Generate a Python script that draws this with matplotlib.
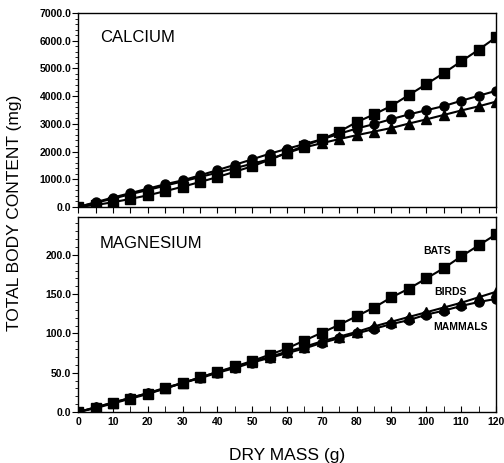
import matplotlib
matplotlib.use("Agg")
import matplotlib.pyplot as plt
from matplotlib.ticker import MultipleLocator, FormatStrFormatter

plt.rcParams["font.family"] = ["Liberation Sans", "DejaVu Sans"]

# -- data --
dry_mass = list(range(0, 121, 5))

ca_bats = [0, 70, 170, 290, 420, 570, 730, 900, 1080, 1270, 1470, 1700, 1960,
           2210, 2440, 2720, 3060, 3340, 3650, 4040, 4430, 4830, 5250, 5670, 6120]
ca_birds = [0, 150, 300, 460, 610, 770, 920, 1080, 1240, 1400, 1560, 1720, 1950,
            2150, 2300, 2450, 2590, 2720, 2850, 3010, 3160, 3320, 3480, 3630, 3800]
ca_mammals = [0, 170, 340, 500, 660, 820, 960, 1140, 1330, 1520, 1720, 1920, 2100,
              2270, 2440, 2640, 2830, 2990, 3170, 3340, 3490, 3640, 3830, 4010, 4190]

mg_bats = [0, 5, 11, 17, 23, 30, 37, 44, 51, 58, 65, 73, 81,
           91, 101, 111, 122, 133, 146, 157, 170, 183, 198, 212, 226]
mg_birds = [0, 6, 12, 18, 24, 31, 37, 44, 51, 57, 64, 70, 77,
            83, 90, 96, 102, 109, 115, 121, 127, 133, 139, 146, 153]
mg_mammals = [0, 6, 12, 18, 24, 30, 37, 43, 50, 56, 63, 69, 75,
              81, 88, 94, 100, 106, 112, 117, 124, 129, 135, 140, 144]

fig = plt.figure(figsize=(5.04, 4.63), dpi=100)
ax_ca = fig.add_axes([0.155, 0.553, 0.829, 0.419])
ax_mg = fig.add_axes([0.155, 0.110, 0.829, 0.421])

line_kw = dict(color="black", linewidth=1.5, markersize=6.5)

# Calcium
ax_ca.plot(dry_mass, ca_bats, marker="s", **line_kw)
ax_ca.plot(dry_mass, ca_mammals, marker="o", **line_kw)
ax_ca.plot(dry_mass, ca_birds, marker="^", **line_kw)
ax_ca.set_xlim(0, 120)
ax_ca.set_ylim(0, 7000)
ax_ca.yaxis.set_major_locator(MultipleLocator(1000))
ax_ca.yaxis.set_minor_locator(MultipleLocator(200))
ax_ca.xaxis.set_major_locator(MultipleLocator(5))
ax_ca.tick_params(axis="x", direction="out", length=4, labelbottom=False)
ax_ca.text(6.3, 6100, "CALCIUM", fontsize=12, va="center")

# Magnesium
ax_mg.plot(dry_mass, mg_bats, marker="s", **line_kw)
ax_mg.plot(dry_mass, mg_birds, marker="^", **line_kw)
ax_mg.plot(dry_mass, mg_mammals, marker="o", **line_kw)
ax_mg.set_xlim(0, 120)
ax_mg.set_ylim(0, 248)
ax_mg.yaxis.set_major_locator(MultipleLocator(50))
ax_mg.yaxis.set_minor_locator(MultipleLocator(10))
ax_mg.xaxis.set_major_locator(MultipleLocator(10))
ax_mg.xaxis.set_minor_locator(MultipleLocator(5))
ax_mg.tick_params(axis="x", which="both", direction="in", length=4)
ax_mg.text(6.3, 215, "MAGNESIUM", fontsize=12, va="center")
ax_mg.text(103, 205, "BATS", fontsize=7.5, fontweight="bold", ha="center", va="center")
ax_mg.text(106.8, 153, "BIRDS", fontsize=7.5, fontweight="bold", ha="center", va="center")
ax_mg.text(109.7, 108, "MAMMALS", fontsize=7.5, fontweight="bold", ha="center", va="center")
ax_mg.set_xlabel("DRY MASS (g)", fontsize=12.5, labelpad=15)

for ax in (ax_ca, ax_mg):
    ax.yaxis.set_major_formatter(FormatStrFormatter("%.1f"))
    ax.tick_params(axis="y", which="major", direction="out", length=4, pad=1)
    ax.tick_params(axis="y", which="minor", direction="out", length=2)
    ax.tick_params(labelsize=7.5)
    for lab in ax.get_xticklabels() + ax.get_yticklabels():
        lab.set_fontweight("bold")
    for sp in ax.spines.values():
        sp.set_linewidth(1.0)

fig.text(0.028, 0.54, "TOTAL BODY CONTENT (mg)", rotation=90, fontsize=12.5,
         ha="center", va="center")

fig.savefig("out.png", dpi=100)
